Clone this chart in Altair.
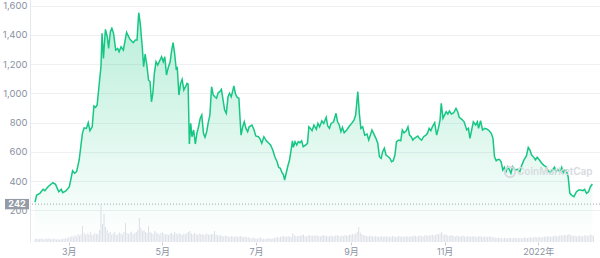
import altair as alt
import pandas as pd

# ---------------- data ----------------
start_date = "2021-02-07"

# day offset from start_date, price in USD
price_day = [
    0, 1.1, 3.2, 5.3, 6.4, 8.5, 11.7, 13.4, 15.5, 17.1,
    18.1, 20.3, 22.4, 24.5, 25.8, 27.1, 28.8, 30.9, 32.0, 33.5,
    34.7, 35.8, 37.3, 38.4, 39.5, 40.5, 42.0, 43.0, 43.7, 44.6,
    45.9, 47.1, 48.0, 49.1, 50.1, 51.2, 52.6, 53.9, 54.8, 56.1,
    57.6, 59.7, 61.9, 64.0, 65.4, 66.5, 67.6, 68.6, 69.9, 70.8,
    71.8, 72.9, 74.0, 75.0, 75.9, 76.8, 77.8, 78.9, 80.0, 81.0,
    82.5, 83.6, 84.6, 85.7, 87.0, 88.1, 89.1, 90.0, 91.0, 92.1,
    92.7, 93.8, 94.9, 95.9, 97.0, 98.1, 99.1, 99.8, 100.6, 101.5,
    102.3, 103.4, 104.5, 105.5, 106.6, 107.7, 108.7, 109.8, 110.8, 111.9,
    113.0, 114.0, 115.1, 116.2, 117.2, 118.3, 119.4, 120.4, 121.5, 122.6,
    123.6, 124.7, 125.8, 126.8, 127.9, 129.0, 129.6, 130.7, 131.8, 132.9,
    133.7, 134.3, 135.4, 136.4, 137.5, 138.6, 139.6, 141.4, 142.8, 143.9,
    145.6, 146.5, 147.8, 149.2, 150.8, 152.4, 153.5, 155.0, 156.3, 157.8,
    158.8, 159.9, 161.0, 162.0, 162.7, 163.7, 164.8, 165.9, 166.9, 167.8,
    168.4, 169.5, 170.6, 171.6, 172.7, 173.8, 174.8, 176.3, 177.6, 178.5,
    179.5, 180.6, 181.8, 183.4, 184.4, 185.5, 187.0, 188.2, 189.8, 190.8,
    191.9, 193.0, 194.6, 196.2, 197.2, 198.3, 199.4, 200.4, 201.5, 203.2,
    204.7, 206.4, 207.9, 209.0, 210.4, 211.5, 212.4, 213.6, 214.9, 216.4,
    217.5, 218.6, 219.6, 220.7, 222.2, 223.4, 224.5, 225.6, 226.6, 227.7,
    228.8, 230.3, 231.4, 232.4, 233.5, 234.6, 235.6, 237.1, 238.4, 239.4,
    240.5, 242.0, 243.1, 244.1, 245.2, 246.3, 247.3, 249.5, 250.5, 252.0,
    253.3, 254.8, 255.8, 256.9, 258.0, 259.0, 260.5, 261.8, 262.9, 264.0,
    264.8, 265.9, 266.9, 268.0, 269.1, 270.1, 271.4, 272.9, 274.4, 275.5,
    276.5, 278.2, 279.7, 281.4, 282.5, 283.5, 284.6, 285.7, 287.2, 288.3,
    289.1, 290.4, 291.7, 293.1, 294.7, 296.0, 297.4, 298.5, 299.5, 300.6,
    301.7, 302.7, 303.8, 304.9, 305.9, 307.0, 308.1, 309.1, 310.2, 311.3,
    313.0, 314.5, 316.0, 317.3, 318.7, 320.3, 321.5, 322.6, 323.7, 325.1,
    326.2, 327.3, 328.8, 330.0, 331.5, 333.1, 334.4, 335.8, 337.3, 338.6,
    339.5, 340.7, 342.2, 343.3, 344.3, 345.4, 346.5, 347.5, 348.6, 349.7,
    351.3, 352.9, 354.4, 355.6, 357.1, 358.2, 359.5, 360.8, 362.0, 363.3,
]
price_usd = [
    256, 304, 316, 343, 334, 361, 388, 377, 327, 343,
    320, 334, 361, 470, 453, 464, 544, 726, 764, 760,
    799, 744, 771, 913, 904, 920, 1079, 1182, 1410, 1239,
    1437, 1387, 1307, 1421, 1444, 1410, 1296, 1307, 1284, 1318,
    1296, 1417, 1369, 1346, 1364, 1364, 1551, 1478, 1318, 1182,
    1268, 1193, 1091, 1079, 942, 1000, 1136, 1216, 1193, 1216,
    1250, 1216, 1250, 1125, 1182, 1216, 1296, 1346, 1273, 1159,
    1182, 988, 1068, 1095, 1022, 1045, 1068, 1063, 653, 794,
    703, 749, 653, 726, 771, 829, 851, 726, 699, 737,
    805, 851, 1045, 988, 976, 966, 1004, 1011, 1027, 954,
    885, 863, 976, 1000, 976, 1022, 1050, 995, 972, 966,
    817, 714, 771, 805, 760, 737, 771, 783, 749, 708,
    703, 692, 658, 703, 675, 658, 646, 612, 566, 532,
    494, 487, 457, 441, 407, 453, 503, 544, 612, 675,
    630, 669, 646, 669, 662, 675, 635, 646, 658, 771,
    760, 744, 783, 754, 794, 771, 812, 794, 836, 776,
    760, 794, 805, 863, 805, 783, 737, 767, 730, 749,
    773, 794, 817, 851, 1011, 851, 760, 771, 714, 721,
    680, 714, 749, 726, 692, 658, 566, 555, 600, 624,
    578, 566, 555, 532, 539, 578, 669, 680, 675, 749,
    730, 744, 771, 714, 703, 680, 692, 708, 692, 680,
    703, 714, 726, 760, 744, 771, 799, 714, 760, 817,
    931, 829, 851, 874, 858, 879, 858, 867, 897, 874,
    836, 822, 805, 749, 760, 692, 749, 805, 783, 805,
    760, 812, 749, 760, 754, 744, 726, 692, 566, 539,
    548, 548, 532, 475, 494, 464, 498, 480, 453, 498,
    475, 480, 464, 509, 544, 571, 630, 612, 578, 562,
    544, 562, 544, 525, 509, 498, 470, 457, 475, 494,
    464, 480, 464, 494, 457, 475, 464, 429, 316, 304,
    293, 327, 338, 338, 334, 343, 316, 327, 361, 380,
]

# daily trading volume (million USD), one value per day from start_date
volume_musd = (
    [150, 170, 140, 160, 180, 150, 130, 170, 160, 190, 150, 140, 170, 160, 130, 150, 120, 140, 160, 150]
    + [200, 180, 250, 220, 300, 260, 350, 280, 400, 320]
    + [380, 800, 450, 350, 420, 380, 500, 380, 350, 450, 400, 380, 600]
    + [1850, 900, 1400, 750, 600]
    + [450, 500, 380, 420, 500, 350, 400, 480, 420, 380, 500]
    + [950]
    + [450, 400, 480, 520, 380, 450, 500, 600]
    + [1200]
    + [700, 550, 600, 500, 450]
    + [800]
    + [500, 450, 400, 550, 480, 420, 380, 450, 500, 420, 380, 400, 350, 420, 450, 380, 500, 420, 380, 450,
       400, 350, 420, 380, 450]
    + [500, 550]
    + [420, 380, 450, 400, 350, 420, 380, 400, 350, 380, 420, 380, 350, 400, 380]
    + [550]
    + [380, 350, 320, 350, 300, 280, 320, 300, 280, 250, 300, 280, 260, 300, 250, 280, 300, 260, 250, 280,
       230, 250]
    + [200, 180, 220, 200, 180, 160, 200, 220, 180, 160, 150, 180, 200, 170, 160, 180, 200, 220, 250, 230,
       260, 280, 300, 250, 280, 300, 260, 250]
    + [450, 350, 300, 280, 320, 300, 350, 380, 300, 280, 330, 350, 300]
    + [320, 300, 350, 330, 300, 280, 320, 350, 300, 330, 280, 300, 320, 280, 300, 330, 350, 300, 280, 320,
       300, 350, 330, 300, 380, 350, 400]
    + [380, 420, 500, 750, 480, 400, 350]
    + [320, 300, 280, 300, 320, 280, 260, 300, 280, 250, 280, 300, 260, 280, 300, 250, 280, 260, 300, 280,
       250, 270, 300, 280, 260, 280, 250, 300, 280, 260, 300, 280, 320, 300, 280, 300, 320, 300, 280, 330,
       350, 300, 320, 350, 380, 330, 350, 400, 380, 420]
    + [500]
    + [380, 350, 400, 330, 300, 350, 320, 300, 280, 320, 300, 280, 300, 320, 280, 260, 300, 280, 260, 280,
       300, 260, 250, 280, 300, 260, 250, 280, 270, 250, 280, 260, 250, 230]
    + [220, 200, 230, 210, 200, 180, 220, 200, 190, 210, 200, 180, 200, 220, 190, 200, 210, 190, 200, 230,
       210, 200, 220, 240, 210, 230, 250, 220, 240, 260, 230]
    + [250, 280, 260, 300, 270, 250, 280, 300, 320, 280, 300, 330, 350, 300, 380, 320, 350, 400, 350, 330,
       300, 320, 280, 300, 330, 300, 280, 320, 350, 300, 330, 380, 350, 300]
)

open_price = [242]
y_ticks = [200, 400, 600, 800, 1000, 1200, 1400, 1600]
watermark = ["CoinMarketCap"]

# ---------------- frames ----------------
t0 = pd.Timestamp(start_date)
n = min(len(price_day), len(price_usd))
price_df = pd.DataFrame({
    "date": t0 + pd.to_timedelta(price_day[:n], unit="D"),
    "price": price_usd[:n],
})
vol_df = pd.DataFrame({
    "date": [t0 + pd.Timedelta(days=i) for i in range(len(volume_musd))],
    "volume": volume_musd,
})
open_df = pd.DataFrame({"p": open_price})
wm_df = pd.DataFrame({"t": watermark})

# ---------------- styling ----------------
GREEN = "#16c784"
LABEL = "#8a919f"
GRID = "#eef0f4"
FONT = "Inter, Noto Sans CJK SC, sans-serif"

x_scale = alt.Scale(domain=[alt.DateTime(year=2021, month=2, date=7),
                            alt.DateTime(year=2022, month=2, date=7)])
x_axis = alt.Axis(
    title=None,
    values=[alt.DateTime(year=2021, month=m, date=1) for m in (3, 5, 7, 9, 11)]
    + [alt.DateTime(year=2022, month=1, date=1)],
    labelExpr="month(datum.value) == 0 ? year(datum.value) + '年' : (month(datum.value) + 1) + '月'",
    grid=False, domain=False, ticks=True, tickSize=3, tickColor="#c9ced6",
    labelColor=LABEL, labelFontSize=9, labelFont=FONT, labelPadding=2,
    labelOverlap=False,
)
y_scale = alt.Scale(domain=[-17, 1638], nice=False, zero=False)
y_axis = alt.Axis(
    title=None, orient="left", values=y_ticks, format=",.0f",
    grid=True, gridColor=GRID, gridWidth=1,
    domain=True, domainColor="#e4e7ec", ticks=False,
    labelColor=LABEL, labelFontSize=9.5, labelFont=FONT, labelPadding=3,
    labelOverlap=False, labelFlush=False, labelBound=False,
)

vmax = max(volume_musd)
vol_scale = alt.Scale(domain=[0, vmax * 242 / 37], nice=False)

gradient = alt.Gradient(
    gradient="linear",
    stops=[alt.GradientStop(color="rgba(22,199,132,0.30)", offset=0),
           alt.GradientStop(color="rgba(22,199,132,0.0)", offset=1)],
    x1=1, x2=1, y1=0, y2=1,
)

X = alt.X("date:T", scale=x_scale, axis=x_axis)

vol = alt.Chart(vol_df).mark_bar(width=1, color="#dde1e8").encode(
    x=X,
    y=alt.Y("volume:Q", scale=vol_scale, axis=None),
)

area = alt.Chart(price_df).mark_area(color=gradient).encode(
    x=X,
    y=alt.Y("price:Q", scale=y_scale, axis=y_axis),
)
line = alt.Chart(price_df).mark_line(color=GREEN, strokeWidth=1.5).encode(
    x=X,
    y=alt.Y("price:Q", scale=y_scale, axis=y_axis),
)
open_rule = alt.Chart(open_df).mark_rule(color="#a3aab5", strokeDash=[1, 2], strokeWidth=1).encode(
    y=alt.Y("p:Q", scale=y_scale, axis=y_axis),
)
open_box = alt.Chart(open_df).mark_point(
    shape="M-1.2,-0.52L1.2,-0.52L1.2,0.52L-1.2,0.52Z", filled=True, size=400,
    color="#959ca8", opacity=1,
).encode(
    x=alt.value(-13),
    y=alt.Y("p:Q", scale=y_scale, axis=y_axis),
)
open_text = alt.Chart(open_df).mark_text(
    color="white", fontWeight="bold", fontSize=9, font=FONT, align="center", baseline="middle",
).encode(
    x=alt.value(-13),
    y=alt.Y("p:Q", scale=y_scale, axis=y_axis),
    text=alt.Text("p:Q"),
)
wm_logo = alt.Chart(wm_df).mark_point(
    shape="circle", size=110, color="#d6dae0", strokeWidth=1.8, filled=False, opacity=1,
).encode(x=alt.value(480), y=alt.value(172))
wm_text = alt.Chart(wm_df).mark_text(
    color="#d6dae0", fontSize=10, fontWeight=600, font=FONT, align="left", baseline="middle",
).encode(x=alt.value(487), y=alt.value(172), text="t:N")

price_layer = alt.layer(area, line, open_rule, wm_logo, wm_text, open_box, open_text)

chart = (
    alt.layer(vol, price_layer)
    .resolve_scale(y="independent")
    .properties(
        width=570, height=242,
        autosize=alt.AutoSizeParams(type="none"),
        padding={"left": 30, "right": 0, "top": 0, "bottom": 16},
        background="white",
    )
    .configure_view(stroke=None)
    .configure_axis(labelOverlap=False)
)

chart.save("out.html", embed_options={"renderer": "svg", "actions": False})
